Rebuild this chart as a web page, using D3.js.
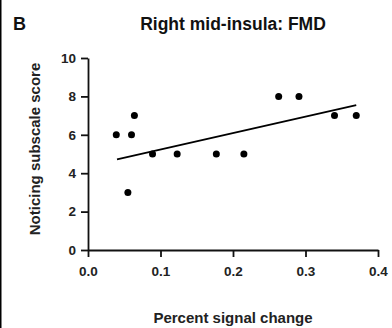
<!DOCTYPE html>
<html>
<head>
<meta charset="utf-8">
<script src="https://cdn.jsdelivr.net/npm/d3@7"></script>
<style>
  body { margin: 0; background: #fff; }
  svg { display: block; font-family: "Liberation Sans", Arial, sans-serif; }
</style>
</head>
<body>
<svg id="chart" width="392" height="328"></svg>
<script>
// values
const signalChange = [0.039, 0.060, 0.064, 0.055, 0.089, 0.123, 0.177, 0.215, 0.263, 0.291, 0.340, 0.370];
const noticingScore = [6, 6, 7, 3, 5, 5, 5, 5, 8, 8, 7, 7];
const fitLine = [[0.040, 4.72], [0.370, 7.55]];
const xTicks = [0.0, 0.1, 0.2, 0.3, 0.4];
const yTicks = [0, 2, 4, 6, 8, 10];

const svg = d3.select("#chart");
const plotLeft = 88, plotRight = 378, plotTop = 58, plotBottom = 250;

const x = d3.scaleLinear().domain([0, 0.4]).range([plotLeft, plotRight]);
const y = d3.scaleLinear().domain([0, 10]).range([plotBottom, plotTop]);

// panel border on the left
svg.append("line")
  .attr("x1", 0.5).attr("x2", 0.5)
  .attr("y1", 0).attr("y2", 328)
  .attr("stroke", "#000").attr("stroke-width", 2);

svg.append("text")
  .attr("x", 13).attr("y", 30)
  .style("font-weight", "bold").style("font-size", "18px")
  .attr("fill", "#111")
  .text("B");

svg.append("text")
  .attr("x", 233).attr("y", 30)
  .attr("text-anchor", "middle")
  .style("font-weight", "bold").style("font-size", "17.5px")
  .attr("fill", "#111")
  .text("Right mid-insula: FMD");

const xAxis = svg.append("g")
  .attr("transform", "translate(0," + plotBottom + ")")
  .call(d3.axisBottom(x).tickValues(xTicks).tickFormat(d3.format(".1f")).tickSize(7).tickSizeOuter(0));

const yAxis = svg.append("g")
  .attr("transform", "translate(" + plotLeft + ",0)")
  .call(d3.axisLeft(y).tickValues(yTicks).tickSize(7).tickSizeOuter(0));

[xAxis, yAxis].forEach(g => {
  g.select(".domain").attr("stroke-width", 1.8).attr("stroke", "#111");
  g.selectAll(".tick line").attr("stroke-width", 1.8).attr("stroke", "#111");
  g.selectAll(".tick text")
    .style("font-weight", "bold").style("font-size", "13.5px")
    .style("font-family", "'Liberation Sans', Arial, sans-serif")
    .attr("fill", "#222");
});
xAxis.selectAll(".tick text").attr("y", 16.5);
yAxis.selectAll(".tick text").attr("x", -12);

svg.append("text")
  .attr("transform", "translate(40,149) rotate(-90)")
  .attr("text-anchor", "middle")
  .style("font-weight", "bold").style("font-size", "15px")
  .attr("fill", "#222")
  .text("Noticing subscale score");

svg.append("text")
  .attr("x", 233).attr("y", 323)
  .attr("text-anchor", "middle")
  .style("font-weight", "bold").style("font-size", "15px")
  .attr("fill", "#222")
  .text("Percent signal change");

svg.append("path")
  .datum(fitLine)
  .attr("d", d3.line().x(d => x(d[0])).y(d => y(d[1])))
  .attr("stroke", "#000").attr("stroke-width", 1.8).attr("fill", "none");

svg.selectAll("circle.pt")
  .data(signalChange.map((v, i) => [v, noticingScore[i]]))
  .enter()
  .append("circle")
  .attr("class", "pt")
  .attr("cx", d => x(d[0]))
  .attr("cy", d => y(d[1]))
  .attr("r", 3.5)
  .attr("fill", "#000");
</script>
</body>
</html>
